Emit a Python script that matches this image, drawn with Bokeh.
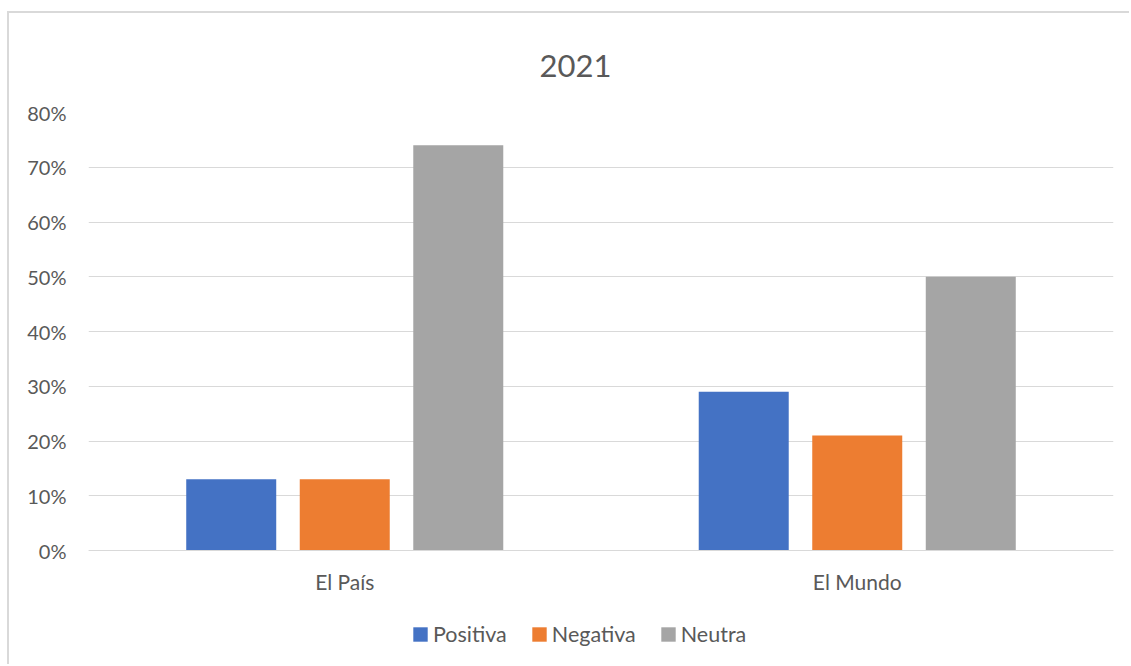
from bokeh.plotting import figure
from bokeh.models import (FactorRange, Range1d, NumeralTickFormatter, FixedTicker,
                          Legend, LegendItem, ColumnDataSource)
from bokeh.transform import dodge
from bokeh.embed import file_html
from bokeh.resources import INLINE

# ---- data ----
categories = ["El País", "El Mundo"]
series_names = ["Positiva", "Negativa", "Neutra"]
positiva = [0.13, 0.29]
negativa = [0.13, 0.21]
neutra = [0.74, 0.50]
y_ticks = [0.0, 0.1, 0.2, 0.3, 0.4, 0.5, 0.6, 0.7, 0.8]
title_text = "2021"

colors = ["#4472C4", "#ED7D31", "#A5A5A5"]
FONT = "Lato"
TXT = "#595959"
GRID = "#D9D9D9"

# layout (pixels)
W, H = 1122, 653
FRAME_TOP, FRAME_LEFT, FRAME_RIGHT = 99, 79, 18
ZERO_PX = 537            # distance of the 0% line from the canvas top
Y_TOP = 0.8
px_per_unit = (ZERO_PX - FRAME_TOP) / Y_TOP
y_start = -(H - ZERO_PX) / px_per_unit

src = ColumnDataSource(dict(cat=categories, Positiva=positiva, Negativa=negativa, Neutra=neutra))

p = figure(x_range=FactorRange(*categories), y_range=Range1d(y_start, Y_TOP),
           width=W, height=H, output_backend="svg", toolbar_location=None,
           min_border_left=FRAME_LEFT, min_border_right=FRAME_RIGHT,
           min_border_top=FRAME_TOP, min_border_bottom=0)
p.styles = {"border-left": "2px solid #D9D9D9", "border-top": "2px solid #D9D9D9",
            "margin-top": "11px", "margin-left": "7px"}

p.title.text = title_text
p.title.text_font = FONT
p.title.text_font_size = "31px"
p.title.text_font_style = "normal"
p.title.text_color = TXT
p.title.align = "left"
p.title.offset = 451
p.title.standoff = 71

step = 0.2215
width = 0.1756
renderers = []
for i, (name, col) in enumerate(zip(series_names, colors)):
    r = p.vbar(x=dodge("cat", (i - 1) * step, range=p.x_range), top=name, width=width,
               source=src, fill_color=col, line_color=None)
    renderers.append(r)

legend = Legend(items=[LegendItem(label=n, renderers=[r]) for n, r in zip(series_names, renderers)],
                orientation="horizontal", location=(323, 19),
                glyph_width=18, glyph_height=18, label_standoff=4, spacing=23,
                padding=0, margin=0, border_line_color=None, background_fill_alpha=0,
                label_text_font=FONT, label_text_font_size="21.5px", label_text_color=TXT)
p.add_layout(legend, "center")

p.outline_line_color = None
p.xgrid.grid_line_color = None
p.ygrid.grid_line_color = GRID
p.ygrid.grid_line_width = 1
p.yaxis.ticker = FixedTicker(ticks=y_ticks)
p.yaxis.formatter = NumeralTickFormatter(format="0%")
p.yaxis.axis_line_color = None
p.yaxis.major_tick_line_color = None
p.yaxis.minor_tick_line_color = None
p.yaxis.major_label_standoff = 16
p.xaxis.fixed_location = 0
p.xaxis.axis_line_color = GRID
p.xaxis.major_tick_line_color = None
p.xaxis.minor_tick_line_color = None
p.xaxis.major_label_standoff = 12
for ax in (p.xaxis, p.yaxis):
    ax.major_label_text_font = FONT
    ax.major_label_text_font_size = "20px"
    ax.major_label_text_color = TXT
p.xaxis.major_label_text_font_size = "21px"

open("out.html", "w").write(file_html(p, INLINE))
